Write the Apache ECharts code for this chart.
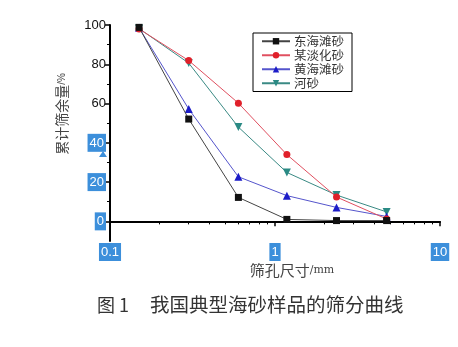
<!DOCTYPE html>
<html><head><meta charset="utf-8">
<script src="https://cdn.jsdelivr.net/npm/echarts@6/dist/echarts.min.js"></script>
<style>html,body{margin:0;padding:0;background:#fff;}#c{width:458px;height:347px;}</style>
</head><body><div id="c"></div>
<script>
const sieveSizes = [0.15, 0.3, 0.6, 1.18, 2.36, 4.75];
const seriesNames = ['东海滩砂', '某淡化砂', '黄海滩砂', '河砂'];
const donghai = [98.8, 52.1, 12.2, 1.0, 0.4, 0.4];
const moudanhua = [98.0, 81.9, 60.2, 34.0, 12.4, 1.2];
const huanghai = [98.6, 57.2, 22.7, 13.1, 7.1, 2.5];
const hesha = [98.2, 80.6, 48.0, 24.9, 13.4, 4.8];
const yTickLabels = [0, 20, 40, 60, 80, 100];
const yMinorTicks = [10, 30, 50, 70, 90];
const xTickLabels = [0.1, 1, 10];
const xMinorTicks = [0.2,0.3,0.4,0.5,0.6,0.7,0.8,0.9,2,3,4,5,6,7,8,9];
const highlighted = ['0', '20', '40', '0.1', '1', '10'];

const chart = echarts.init(document.getElementById('c'));
const pairs = arr => sieveSizes.map((x, i) => [x, arr[i]]);
const colors = ['#111111', '#e0202a', '#1c1cc8', '#2a8a84'];
const lineColors = ['#444444', '#e05060', '#5555cc', '#3a8a84'];
const symbols = ['rect', 'circle', 'triangle', 'triangle'];
const rot = [0, 0, 0, 180];
const sizes = [7, 7, 8, 8];
const datasets = [donghai, moudanhua, huanghai, hesha];

const hlRich = {
  hl: {backgroundColor: '#3c8fdb', color: '#ffffff', padding: [3, 2, 2, 2], fontSize: 13, fontFamily: 'Liberation Sans'},
  n: {color: '#111', fontSize: 13, fontFamily: 'Liberation Sans'}
};
const fmt = v => {
  const s = String(v);
  return highlighted.includes(s) ? '{hl|' + s + '}' : '{n|' + s + '}';
};

chart.setOption({
  animation: false,
  backgroundColor: '#ffffff',
  grid: {left: 110, right: 18, top: 25, bottom: 106},
  legend: {
    orient: 'vertical', left: 253, top: 33,
    data: seriesNames,
    borderColor: '#000', borderWidth: 1,
    padding: [2, 8, 2, 8], itemGap: 1.5,
    itemWidth: 28, itemHeight: 8,
    textStyle: {fontSize: 12.5, color: '#333', fontFamily: 'Noto Sans CJK SC', padding: [0, 0, 0, -1]}
  },
  xAxis: [{
    type: 'log', logBase: 10, min: 0.1, max: 10,
    axisLine: {lineStyle: {color: '#000', width: 2}},
    axisTick: {show: true, length: 5, lineStyle: {color: '#000', width: 1.5}, customValues: xTickLabels},
    axisLabel: {customValues: xTickLabels, formatter: fmt, rich: hlRich, margin: 2},
    splitLine: {show: false}, minorTick: {show: false}
  }, {
    type: 'log', logBase: 10, min: 0.1, max: 10, position: 'bottom',
    axisLine: {show: false},
    axisTick: {show: true, length: 3, lineStyle: {color: '#000', width: 1}, customValues: xMinorTicks},
    axisLabel: {show: false}, splitLine: {show: false}
  }],
  yAxis: [{
    type: 'value', min: -10, max: 100,
    axisLine: {show: true, lineStyle: {color: '#000', width: 2}},
    axisTick: {show: true, length: 5, lineStyle: {color: '#000', width: 1.5}, customValues: yTickLabels},
    axisLabel: {customValues: yTickLabels, formatter: fmt, rich: hlRich, margin: 4},
    splitLine: {show: false}
  }, {
    type: 'value', min: -10, max: 100, position: 'left',
    axisLine: {show: false},
    axisTick: {show: true, length: 3, lineStyle: {color: '#000', width: 1}, customValues: yMinorTicks},
    axisLabel: {show: false}, splitLine: {show: false}
  }],
  series: datasets.map((d, i) => ({
    name: seriesNames[i], type: 'line', xAxisIndex: 0, yAxisIndex: 0,
    data: pairs(d),
    symbol: symbols[i], symbolSize: sizes[i], symbolRotate: rot[i],
    itemStyle: {color: colors[i]},
    lineStyle: {color: lineColors[i], width: 1},
    z: 10 - i
  })),
  graphic: [
    {type: 'text', x: 62, y: 114, rotation: Math.PI / 2,
     style: {text: '累计筛余量{s|/%}', fontSize: 14, fill: '#444', fontFamily: 'Noto Sans CJK SC',
       align: 'center', verticalAlign: 'middle', rich: {s: {fontSize: 10, fill: '#444'}}}},
    {type: 'text', x: 292, y: 270,
     style: {text: '筛孔尺寸{s|/mm}', fontSize: 15, fill: '#444', fontFamily: 'Noto Sans CJK SC',
       align: 'center', verticalAlign: 'middle', rich: {s: {fontSize: 11, fill: '#444', fontFamily: 'DejaVu Serif'}}}},
    {type: 'text', x: 97, y: 305,
     style: {text: '图 1', fontSize: 18, fill: '#333', fontFamily: 'Noto Sans CJK SC', align: 'left', verticalAlign: 'middle'}},
    {type: 'text', x: 150, y: 305,
     style: {text: '我国典型海砂样品的筛分曲线', fontSize: 19.5, fill: '#333', fontFamily: 'Noto Sans CJK SC', align: 'left', verticalAlign: 'middle'}},
    {type: 'polygon', shape: {points: [[99, 157], [107, 157], [103, 151]]}, style: {fill: '#3c8fdb'}}
  ]
});
</script></body></html>
